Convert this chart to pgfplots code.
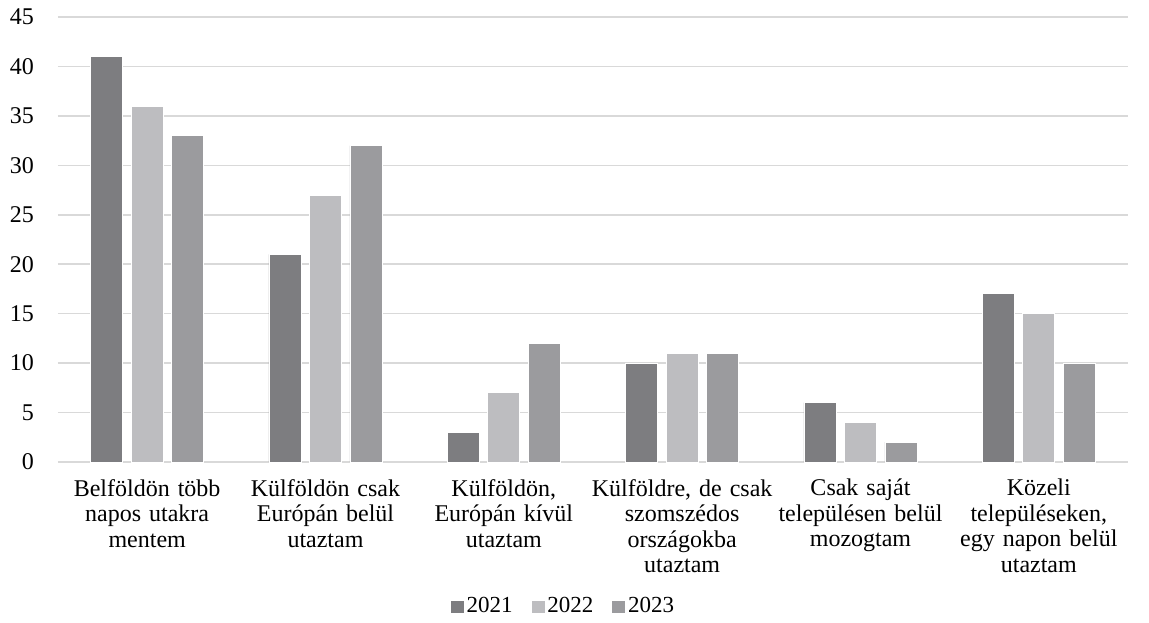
\documentclass[border=0pt]{standalone}
\usepackage{pgfplots}
\pgfplotsset{compat=1.18}
\usepackage{fontspec}
\setmainfont{Liberation Serif}
\definecolor{c21}{HTML}{7D7D80}
\definecolor{c22}{HTML}{BDBDC0}
\definecolor{c23}{HTML}{9B9B9E}
\definecolor{gridc}{HTML}{D9D9D9}

\begin{document}
\fontsize{24}{25}\selectfont
\begin{tikzpicture}
\useasboundingbox (-58pt,-160pt) rectangle (1091pt,462pt);
\begin{axis}[
  scale only axis, width=1070pt, height=445pt,
  ybar=8.5pt, bar width=32pt,
  xmin=-0.5, xmax=5.5, ymin=0, ymax=45,
  ytick={0,5,...,45},
  xtick=data,
  xticklabels={{Belföldön több\\napos utakra\\mentem},
               {Külföldön csak\\Európán belül\\utaztam},
               {Külföldön,\\Európán kívül\\utaztam},
               {Külföldre, de csak\\szomszédos\\országokba\\utaztam},
               {Csak saját\\településen belül\\mozogtam},
               {Közeli\\településeken,\\egy napon belül\\utaztam}},
  tick label style={font=\fontsize{24}{25.5}\selectfont},
  xticklabel style={align=center, text width=200pt, yshift=-9pt},
  yticklabel style={xshift=-16pt},
  /pgf/number format/assume math mode=true,
  major tick length=0pt,
  axis line style={draw=none},
  ymajorgrids, grid style={gridc, line width=1.5pt},
  legend style={at={(0.472,-0.326)}, anchor=center, draw=none, fill=none,
    legend columns=-1, font=\fontsize{23}{25}\selectfont,
    /tikz/every even column/.append style={column sep=16pt}},
  legend image code/.code={\fill[#1] (2pt,-6pt) rectangle (16pt,7pt);},
  every axis plot/.append style={draw=white, line width=0.8pt},
]
\addplot[fill=c21] coordinates {(0,41) (1,21) (2,3) (3,10) (4,6) (5,17)};
\addplot[fill=c22] coordinates {(0,36) (1,27) (2,7) (3,11) (4,4) (5,15)};
\addplot[fill=c23] coordinates {(0,33) (1,32) (2,12) (3,11) (4,2) (5,10)};
\legend{2021,2022,2023}
\end{axis}
\end{tikzpicture}
\end{document}
